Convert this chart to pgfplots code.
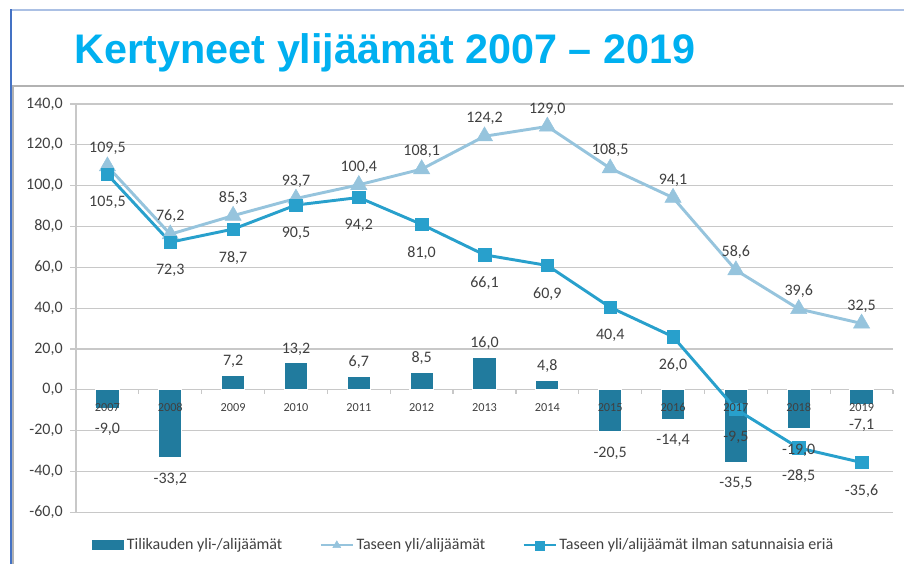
\documentclass[border=0pt]{standalone}
\usepackage{fontspec}
\setmainfont{Carlito}
\newfontfamily\titlefont{Liberation Sans}
\usepackage{pgfplots}
\usepackage{pgfplotstable}
\pgfplotsset{compat=1.18}

\definecolor{titleblue}{RGB}{0,176,240}
\definecolor{barcol}{RGB}{33,123,158}
\definecolor{tricol}{RGB}{150,196,221}
\definecolor{sqcol}{RGB}{40,160,204}
\definecolor{labelgray}{RGB}{64,64,64}
\definecolor{gridgray}{RGB}{200,200,200}
\definecolor{frameblue}{RGB}{68,114,196}

\pgfplotsset{
  wideline legend/.style={legend image code/.code={%
      \draw[mark repeat=2, mark phase=2, ##1, line width=1.6pt, mark size=3.4pt]
        plot coordinates {(0pt,0pt) (12pt,0pt) (24pt,0pt)};}},
  bar legend/.style={legend image code/.code={%
      \fill[barcol] (0pt,-3.4pt) rectangle (23.25pt,3.4pt);}},
}

% x, year, base (where the year label sits), bar (tilikauden), tase, ilman satunnaisia
\pgfplotstableread{
x year base bar tase ilman
0  2007 0  -9.0 109.5 105.5
1  2008 0 -33.2  76.2  72.3
2  2009 0   7.2  85.3  78.7
3  2010 0  13.2  93.7  90.5
4  2011 0   6.7 100.4  94.2
5  2012 0   8.5 108.1  81.0
6  2013 0  16.0 124.2  66.1
7  2014 0   4.8 129.0  60.9
8  2015 0 -20.5 108.5  40.4
9  2016 0 -14.4  94.1  26.0
10 2017 0 -35.5  58.6  -9.5
11 2018 0 -19.0  39.6 -28.5
12 2019 0  -7.1  32.5 -35.6
}\datatable

\pgfkeys{/pgf/number format/.cd, fixed, fixed zerofill, precision=1, use comma, 1000 sep={}, assume math mode=true}

\begin{document}
\begin{tikzpicture}
\useasboundingbox (0,0) rectangle (678pt,423pt);
% frames
\draw[gray!60, line width=1pt] (9.8pt,0) -- (9.8pt,358.5pt) -- (678pt,358.5pt);
\draw[frameblue!45, line width=0.8pt] (7.5pt,415.5pt) -- (678pt,415.5pt);
\draw[frameblue, line width=1.6pt] (8.2pt,0) -- (8.2pt,416pt);
% title
\node[anchor=base west, inner sep=0pt, text=titleblue,
      font=\titlefont\bfseries\fontsize{31}{31}\selectfont] at (56pt,375.7pt)
  {Kertyneet ylijäämät 2007 – 2019};

\begin{axis}[
    at={(57pt,38.8pt)}, anchor=south west,
    scale only axis, width=612.75pt, height=306.2pt,
    xmin=-0.5, xmax=12.5, ymin=-60, ymax=140,
    ytick={-60,-40,...,140},
    xtick={0,...,12}, xticklabels={},
    minor xtick={-0.5,0.5,...,12.5},
    axis x line*=middle, axis y line*=left,
    ymajorgrids, grid style={gridgray, line width=0.9pt},
    axis line style={gridgray, line width=0.9pt},
    tick style={gridgray, line width=0.9pt},
    every major x tick/.style={draw=none},
    tick align=outside,
    major tick length=4.5pt, minor tick length=3pt,
    yticklabel style={font=\fontsize{12}{12}\selectfont, text=labelgray, xshift=-2pt},
    nodes near coords style={font=\fontsize{12}{12}\selectfont, text=labelgray},
    legend style={at={(axis description cs:0.475,-0.081)}, anchor=center,
        draw=none, fill=none, legend columns=-1,
        font=\fontsize{12}{12}\selectfont, text=labelgray,
        /tikz/every even column/.append style={column sep=26pt},
        /tikz/every odd column/.append style={inner sep=1pt}},
]
\addplot[ybar, bar width=0.37, bar shift=0pt, fill=barcol, draw=white, line width=0.8pt,
    bar legend]
    table[x=x, y=bar] {\datatable};
\addlegendentry{Tilikauden yli-/alijäämät}

\addplot[tricol, line width=2.2pt, mark=triangle*, mark size=7pt,
    mark options={line width=0.4pt},
    nodes near coords,
    every node near coord/.append style={anchor=south, yshift=5pt},
    wideline legend]
    table[x=x, y=tase] {\datatable};
\addlegendentry{Taseen yli/alijäämät}

\addplot[sqcol, line width=2.2pt, mark=square*, mark size=4.7pt,
    mark options={line width=0.4pt},
    nodes near coords,
    every node near coord/.append style={anchor=north, yshift=-13pt},
    wideline legend]
    table[x=x, y=ilman] {\datatable};
\addlegendentry{Taseen yli/alijäämät ilman satunnaisia eriä}

% bar value labels, drawn after the lines so they sit on top
\addplot[ybar, bar width=0.37, bar shift=0pt, draw=none, fill=none, forget plot,
    nodes near coords, nodes near coords align=vertical,
    every node near coord/.append style={inner ysep=5.5pt, text height=13.4pt}]
    table[x=x, y=bar] {\datatable};

% year labels on the zero line, drawn over the bars
\addplot[draw=none, forget plot, point meta=explicit symbolic,
    nodes near coords,
    every node near coord/.append style={anchor=center, yshift=-13pt,
        font=\fontsize{9.2}{9.2}\selectfont, text=labelgray}]
    table[x=x, y=base, meta=year] {\datatable};
\end{axis}
\end{tikzpicture}
\end{document}
